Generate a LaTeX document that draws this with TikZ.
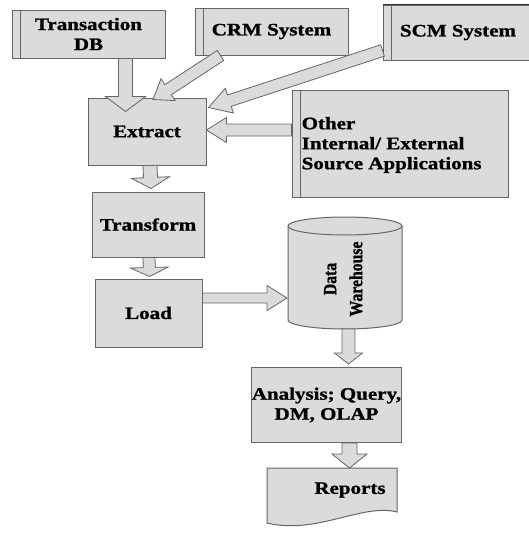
\documentclass[tikz,border=0pt]{standalone}
\usepackage{fontspec}
\setmainfont{Liberation Serif}[FakeStretch=1.2, BoldFeatures={FakeBold=1.2}]
\newfontfamily\dwfont{Liberation Serif}[BoldFeatures={FakeBold=1.2}]
\usetikzlibrary{calc}

% Block arrow: #1 start, #2 tip, #3 shaft half-width, #4 head half-width, #5 head length (pt)
\newcommand\fatarrow[5]{%
  \path[blockarrow]
    ($#1!#3pt!90:#2$)
    -- ($($#2!#5pt!#1$)!#3pt!90:#2$)
    -- ($($#2!#5pt!#1$)!#4pt!90:#2$)
    -- #2
    -- ($($#2!#5pt!#1$)!#4pt!-90:#2$)
    -- ($($#2!#5pt!#1$)!#3pt!-90:#2$)
    -- ($#1!#3pt!-90:#2$)
    -- cycle;}

\begin{document}
\begin{tikzpicture}[x=1pt, y=-1pt,
  labelfont/.style={font=\fontsize{17.5}{20}\selectfont\bfseries},
  box/.style={draw=black!60, fill=black!14, line width=1pt, inner sep=0pt,
    align=center, labelfont},
  srcbox/.style={box, path picture={\draw[black!60, line width=0.8pt]
      ([xshift=8pt]path picture bounding box.north west) --
      ([xshift=8pt]path picture bounding box.south west);}},
  shapefill/.style={draw=black!60, fill=black!14, line width=1pt},
  blockarrow/.style={draw=black!60, fill=black!14, line width=0.8pt, line join=miter},
  anchorbox/.style={inner sep=0pt, outer sep=0pt}
]
\fill[white] (0,0) rectangle (529,536);
\useasboundingbox (0,0) rectangle (529,536);

% source systems
\node[srcbox, minimum width=153pt, minimum height=48pt] (tdb) at (88.5,34) {Transaction\\DB};
\node[srcbox, minimum width=153pt, minimum height=47pt] (crm) at (271.5,31.5) {CRM System};
\node[srcbox, minimum width=150pt, minimum height=55pt] (scm) at (458,32.5) {SCM System};
\draw[black!80, line width=1.6pt] (scm.north west) -- (scm.north east);
\node[srcbox, minimum width=216pt, minimum height=107pt] (oth) at (400,143.5) {};
\node[anchor=west, align=left, inner sep=0pt, labelfont] (othtext)
  at ([xshift=10pt,yshift=-1.5pt]oth.west) {Other\\Internal/ External\\Source Applications};

% ETL steps
\node[box, minimum width=118pt, minimum height=67pt] (ext) at (147,131.5) {Extract};
\node[box, minimum width=112pt, minimum height=65pt] (trf) at (148,224.5) {Transform};
\node[box, minimum width=107pt, minimum height=68pt] (load) at (148.5,313) {Load};

% data warehouse cylinder
\node[anchorbox, minimum width=114pt, minimum height=112pt] (dw) at (345,273) {};
\path[shapefill] ([yshift=-9pt]dw.north west) -- ([yshift=9pt]dw.south west)
  arc[start angle=180, end angle=360, x radius=57pt, y radius=9pt]
  -- ([yshift=-9pt]dw.north east)
  arc[start angle=0, end angle=180, x radius=57pt, y radius=9pt] -- cycle;
\draw[black!60, line width=1pt] ([yshift=-9pt]dw.north west)
  arc[start angle=180, end angle=360, x radius=57pt, y radius=9pt];
\node[rotate=90, inner sep=0pt, font=\dwfont\fontsize{18.5}{26}\selectfont\bfseries] (dwlabel)
  at (344,279) {\scalebox{0.85}[1]{\begin{tabular}{@{}c@{}}Data\\Warehouse\end{tabular}}};

% analysis and reports
\node[box, minimum width=147pt, minimum height=75pt] (ana) at (326.5,405) {Analysis; Query,\\DM, OLAP};
\node[anchorbox, minimum width=130pt, minimum height=55pt] (rep) at (332,495.5) {};
\path[shapefill] (rep.north west) -- (rep.north east) -- ([yshift=11pt]rep.south east)
  .. controls ([xshift=-35pt, yshift=20pt]rep.south east)
  and ([xshift=50pt, yshift=-12pt]rep.south west) .. (rep.south west) -- cycle;
\node[inner sep=0pt, labelfont] (reptext) at (350,490) {Reports};

% flow arrows
\fatarrow{([xshift=37pt]tdb.south)}{([xshift=-21.5pt,yshift=-14pt]ext.north)}{7}{20}{15}
\fatarrow{([xshift=-51pt]crm.south)}{([xshift=6pt,yshift=-2pt]ext.north)}{6}{13}{18}
\fatarrow{([yshift=10pt]scm.south west)}{([xshift=2pt,yshift=-10pt]ext.north east)}{6}{13}{22}
\fatarrow{([yshift=13.5pt]oth.west)}{([yshift=1.5pt]ext.east)}{6}{12.5}{20}
\fatarrow{([xshift=3pt]ext.south)}{([xshift=3pt,yshift=3pt]trf.north)}{7}{19}{11}
\fatarrow{([xshift=1pt]trf.south)}{([xshift=1pt,yshift=2pt]load.north)}{6}{19}{9}
\fatarrow{([yshift=15pt]load.east)}{([xshift=-1pt,yshift=-25pt]dw.west)}{5}{12.5}{20}
\fatarrow{([xshift=3.5pt]dw.south)}{([xshift=22pt,yshift=3pt]ana.north)}{6.5}{14}{11}
\fatarrow{([xshift=23pt]ana.south)}{([xshift=17.5pt]rep.north)}{7.5}{17.5}{14}
\end{tikzpicture}
\end{document}
